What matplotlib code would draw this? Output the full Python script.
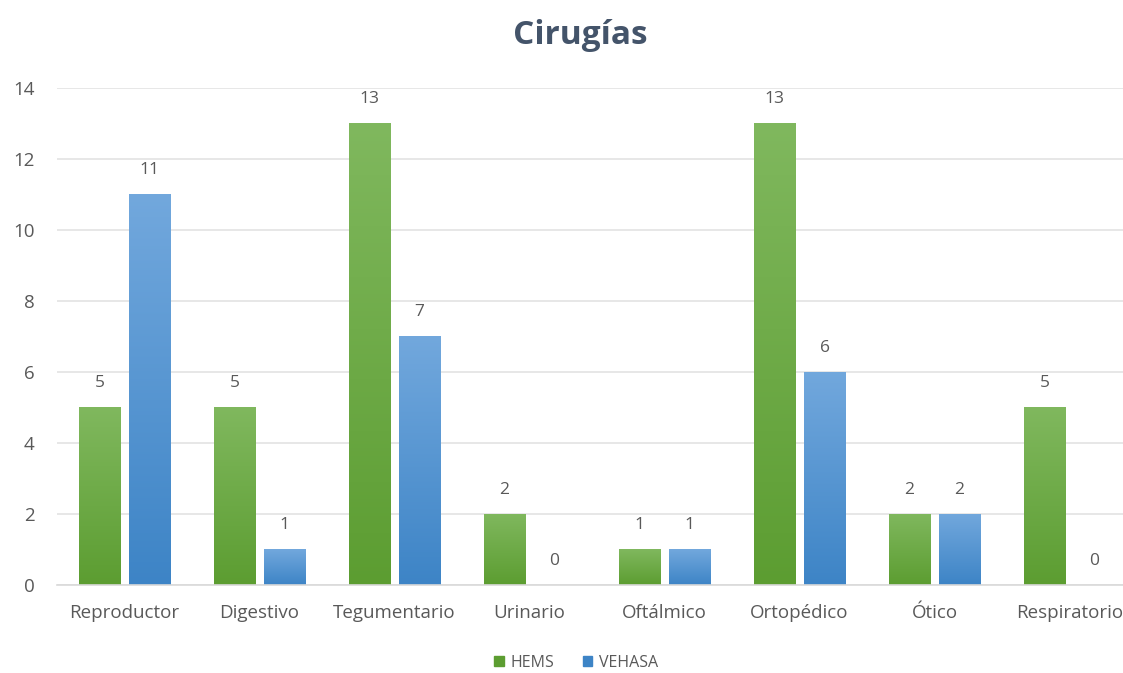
import numpy as np
import matplotlib.pyplot as plt
import matplotlib.patches as patches
from matplotlib.colors import LinearSegmentedColormap

plt.rcParams['font.family'] = ['Open Sans', 'DejaVu Sans']

categories = ['Reproductor', 'Digestivo', 'Tegumentario', 'Urinario',
              'Oftálmico', 'Ortopédico', 'Ótico', 'Respiratorio']
hems = [5, 5, 13, 2, 1, 13, 2, 5]
vehasa = [11, 1, 7, 0, 1, 6, 2, 0]
series_names = ['HEMS', 'VEHASA']

# gradient ends (top, bottom) for each series
green_grad = ['#80b85e', '#5c9d31']
blue_grad = ['#72a8dd', '#3d84c6']

TEXT = '#595959'

fig = plt.figure(figsize=(11.23, 6.73), dpi=100)
ax = fig.add_axes([0.0508, 0.1308, 0.9617, 0.7385])

x = np.arange(len(categories))
width = 0.31
offset = 0.185


def gradient_bars(xs, vals, colors):
    cmap = LinearSegmentedColormap.from_list('g', colors[::-1])
    grad = np.linspace(0, 1, 256).reshape(-1, 1)
    for xi, v in zip(xs, vals):
        if v <= 0:
            continue
        rect = patches.Rectangle((xi - width / 2, 0), width, v,
                                 facecolor='none', edgecolor='none')
        ax.add_patch(rect)
        im = ax.imshow(grad, cmap=cmap, aspect='auto', origin='lower',
                       extent=(xi - width / 2, xi + width / 2, 0, v), zorder=2)
        im.set_clip_path(rect)


gradient_bars(x - offset, hems, green_grad)
gradient_bars(x + offset, vehasa, blue_grad)

for xi, v in zip(x - offset, hems):
    ax.text(xi, v + 0.45, str(v), ha='center', va='bottom', fontsize=12.5, color=TEXT)
for xi, v in zip(x + offset, vehasa):
    ax.text(xi, v + 0.45, str(v), ha='center', va='bottom', fontsize=12.5, color=TEXT)

ax.set_xlim(-0.5, len(categories) - 0.5)
ax.set_ylim(0, 14)
ax.set_yticks(range(0, 15, 2))
ax.set_xticks(x)
ax.set_xticklabels(categories)
ax.tick_params(axis='both', length=0, labelsize=13.5, colors=TEXT)
ax.tick_params(axis='x', pad=14)
ax.tick_params(axis='y', pad=16)
ax.grid(axis='y', color='#e3e3e3', linewidth=1.2)
ax.set_axisbelow(True)
for s in ['top', 'right', 'left']:
    ax.spines[s].set_visible(False)
ax.spines['bottom'].set_color('#d9d9d9')
ax.spines['bottom'].set_linewidth(1.2)

fig.text(0.517, 0.947, 'Cirugías', ha='center', va='center', fontsize=24,
         fontweight='bold', color='#44546a')

handles = [patches.Patch(color=green_grad[1], label=series_names[0]),
           patches.Patch(color=blue_grad[1], label=series_names[1])]
fig.legend(handles=handles, loc='center', bbox_to_anchor=(0.513, 0.015),
           ncol=2, frameon=False, fontsize=11.5, handlelength=0.6,
           handleheight=0.6, handletextpad=0.4, columnspacing=1.8,
           labelcolor=TEXT)

fig.savefig('out.png', dpi=100)
